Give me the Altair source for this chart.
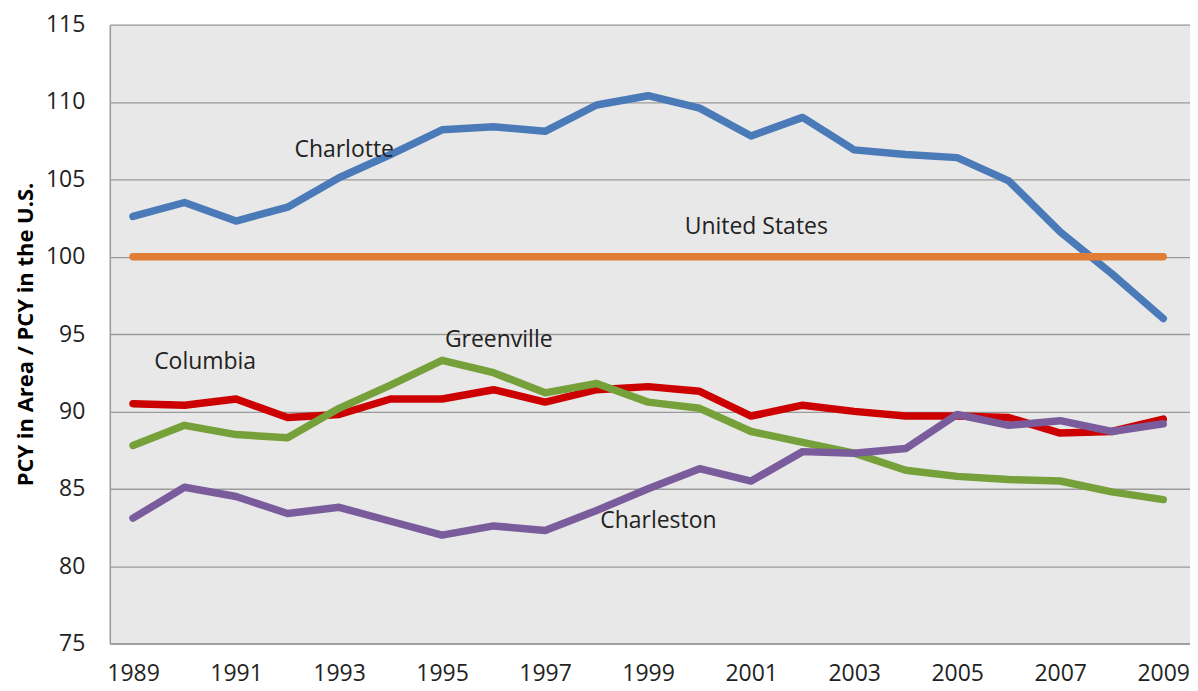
import altair as alt
import pandas as pd

years = list(range(1989, 2010))
charlotte = [102.6, 103.5, 102.3, 103.2, 105.1, 106.6, 108.2, 108.4, 108.1, 109.8, 110.4,
             109.6, 107.8, 109.0, 106.9, 106.6, 106.4, 104.9, 101.6, 98.9, 96.0]
united_states = [100.0] * 21
columbia = [90.5, 90.4, 90.8, 89.6, 89.8, 90.8, 90.8, 91.4, 90.6, 91.4, 91.6,
            91.3, 89.7, 90.4, 90.0, 89.7, 89.7, 89.6, 88.6, 88.7, 89.5]
greenville = [87.8, 89.1, 88.5, 88.3, 90.2, 91.7, 93.3, 92.5, 91.2, 91.8, 90.6,
              90.2, 88.7, 88.0, 87.3, 86.2, 85.8, 85.6, 85.5, 84.8, 84.3]
charleston = [83.1, 85.1, 84.5, 83.4, 83.8, 82.9, 82.0, 82.6, 82.3, 83.6, 85.0,
              86.3, 85.5, 87.4, 87.3, 87.6, 89.8, 89.1, 89.4, 88.7, 89.2]

series_names = ["Charlotte", "United States", "Columbia", "Greenville", "Charleston"]
series_values = [charlotte, united_states, columbia, greenville, charleston]
series_colors = ["#4a7ab8", "#e27d35", "#cc0000", "#76a03a", "#7a5c9c"]

label_names = ["Charlotte", "United States", "Greenville", "Columbia", "Charleston"]
label_x = [1993.1, 2001.1, 1996.1, 1990.4, 1999.2]
label_y = [106.9, 101.9, 94.6, 93.2, 82.9]

rows = []
for name, vals in zip(series_names, series_values):
    for yr, v in zip(years, vals):
        rows.append({"series": name, "year": yr, "value": v})
df = pd.DataFrame(rows)
labels = pd.DataFrame({"name": label_names, "x": label_x, "y": label_y})

FONT = "Open Sans"

xscale = alt.Scale(domain=[1988.55, 2009.52], nice=False, zero=False)
yscale = alt.Scale(domain=[75, 115], nice=False, zero=False)

lines = alt.Chart(df).mark_line(strokeWidth=7.5, strokeCap="round", strokeJoin="round").encode(
    x=alt.X("year:Q", scale=xscale,
            axis=alt.Axis(values=list(range(1989, 2010, 2)), format="d", title=None,
                          grid=False, ticks=False, domain=True, domainColor="#9a9a9a",
                          domainWidth=1.5,
                          labelFontSize=23, labelColor="#222222", labelPadding=19,
                          labelFont=FONT)),
    y=alt.Y("value:Q", scale=yscale,
            axis=alt.Axis(values=list(range(75, 120, 5)), title="PCY in Area / PCY in the U.S.",
                          grid=True, gridColor="#9a9a9a", gridWidth=1.3, ticks=False,
                          domain=True, domainColor="#9a9a9a", domainWidth=1.5,
                          labelFontSize=23, labelColor="#222222", labelPadding=25,
                          labelFont=FONT, titleFont=FONT, titleFontSize=22,
                          titleFontWeight="bold", titleColor="#000000", titlePadding=8)),
    color=alt.Color("series:N", scale=alt.Scale(domain=series_names, range=series_colors),
                    legend=None),
    order=alt.Order("year:Q"),
)

text = alt.Chart(labels).mark_text(fontSize=23, font=FONT, color="#222222").encode(
    x=alt.X("x:Q", scale=xscale),
    y=alt.Y("y:Q", scale=yscale),
    text="name:N",
)

chart = alt.layer(lines, text).properties(
    width=1082, height=620,
    autosize=alt.AutoSizeParams(type="none"),
    padding={"left": 102, "top": 16, "right": 0, "bottom": 45},
    background="#ffffff",
).configure_view(fill="#e8e8e8", stroke=None)

chart.save("out.html", embed_options={"renderer": "svg", "actions": False})
